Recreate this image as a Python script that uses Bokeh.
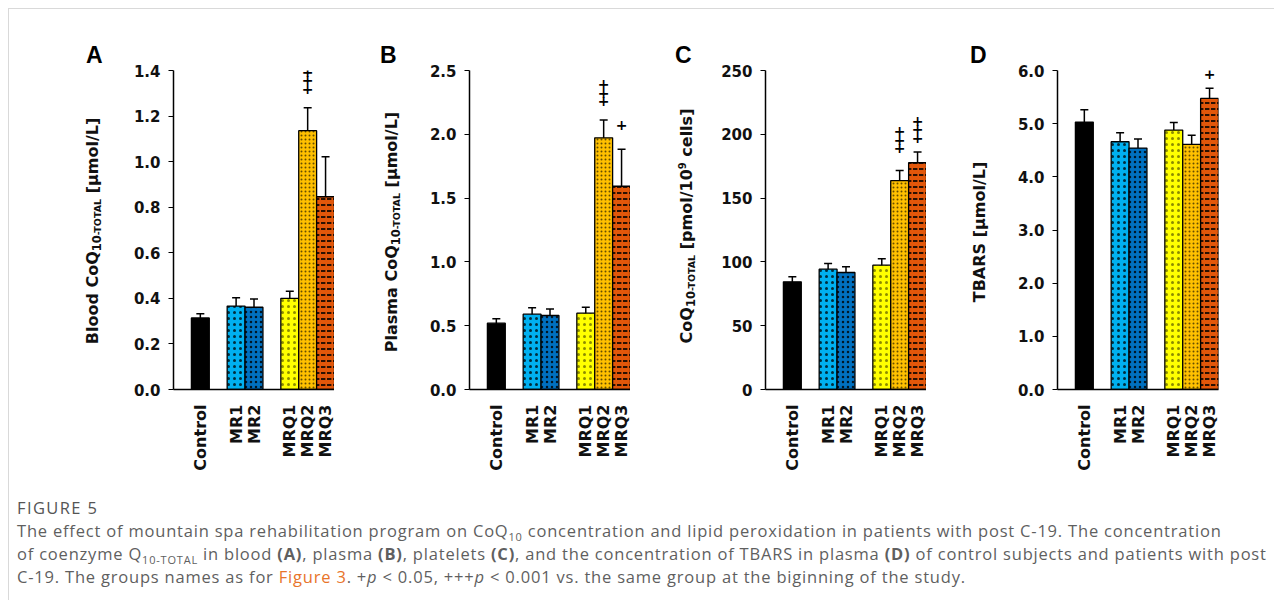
import math
from bokeh.plotting import figure
from bokeh.models import (Range1d, FixedTicker, Label, Whisker, ColumnDataSource,
                          TeeHead, Div, PrintfTickFormatter)
from bokeh.layouts import row, column
from bokeh.embed import file_html
from bokeh.resources import INLINE

# ---------------- data ----------------
groups = ["Control", "MR1", "MR2", "MRQ1", "MRQ2", "MRQ3"]
group_sets = [["Control"], ["MR1", "MR2"], ["MRQ1", "MRQ2", "MRQ3"]]

blood_mean = [0.314, 0.366, 0.361, 0.400, 1.136, 0.846]
blood_err = [0.018, 0.037, 0.036, 0.031, 0.100, 0.175]

plasma_mean = [0.520, 0.590, 0.580, 0.598, 1.972, 1.593]
plasma_err = [0.035, 0.050, 0.050, 0.046, 0.140, 0.290]

platelet_mean = [84.4, 94.3, 91.7, 97.4, 163.7, 177.7]
platelet_err = [4.0, 4.5, 4.5, 5.0, 8.0, 8.5]

tbars_mean = [5.03, 4.66, 4.54, 4.88, 4.61, 5.475]
tbars_err = [0.23, 0.17, 0.17, 0.14, 0.17, 0.19]

ticks_A = [0.0, 0.2, 0.4, 0.6, 0.8, 1.0, 1.2, 1.4]
ticks_B = [0.0, 0.5, 1.0, 1.5, 2.0, 2.5]
ticks_C = [0, 50, 100, 150, 200, 250]
ticks_D = [0.0, 1.0, 2.0, 3.0, 4.0, 5.0, 6.0]

label_A = "Blood CoQ<sub10>10</sub10><subT>-TOTAL</subT> [μmol/L]"
label_B = "Plasma CoQ<sub10>10</sub10><subT>-TOTAL</subT> [μmol/L]"
label_C = "CoQ<sub10>10</sub10><subT>-TOTAL</subT> [pmol/10<sup>9</sup> cells]"
label_D = "TBARS [μmol/L]"

# significance marks: (group, number of "+")
sig_A = [("MRQ2", 3)]
sig_B = [("MRQ2", 3), ("MRQ3", 1)]
sig_C = [("MRQ2", 3), ("MRQ3", 3)]
sig_D = [("MRQ3", 1)]

# ---------------- styles ----------------
fill_colors = {"Control": "#000000", "MR1": "#00b0f0", "MR2": "#0070c0",
               "MRQ1": "#ffff00", "MRQ2": "#ffc000", "MRQ3": "#e2570a"}
hatch_pats = {"Control": " ", "MR1": "dot", "MR2": "dot",
              "MRQ1": "dot", "MRQ2": "dot", "MRQ3": "horizontal_dash"}
hatch_scales = {"Control": 6, "MR1": 6, "MR2": 5, "MRQ1": 6, "MRQ2": 4, "MRQ3": 6}
hatch_weights = {"Control": 1, "MR1": 0.8, "MR2": 0.8, "MRQ1": 0.6, "MRQ2": 0.7, "MRQ3": 1.8}
hatch_alphas = {"Control": 0, "MR1": 0.75, "MR2": 0.8, "MRQ1": 0.45, "MRQ2": 0.6, "MRQ3": 0.9}

# positions (doubled units so ticks are integers); one empty slot between groups
positions = {}
cursor = 2
for gs in group_sets:
    for g in gs:
        positions[g] = cursor + 1
        cursor += 2
    cursor += 2
x_end = cursor - 2

FONT = "DejaVu Sans"
FRAME_W, FRAME_H = 161, 319
TOP, BOTTOM, LEFT = 61, 107, 50
FIG_H = TOP + FRAME_H + BOTTOM


def make_panel(means, errs, ticks, fmt, sigs, sig_offsets, right):
    ymax = ticks[-1]
    p = figure(frame_width=FRAME_W, frame_height=FRAME_H,
               min_border_left=LEFT, min_border_right=right,
               min_border_top=TOP, min_border_bottom=BOTTOM,
               x_range=Range1d(0, x_end), y_range=Range1d(0, ymax),
               output_backend="svg", toolbar_location=None,
               outline_line_color=None, background_fill_color="white")
    p.grid.visible = False

    xs = [positions[g] for g in groups]
    src = ColumnDataSource(dict(
        x=xs, top=means,
        upper=[m + e for m, e in zip(means, errs)],
        lower=[m - e for m, e in zip(means, errs)],
        color=[fill_colors[g] for g in groups],
        hatch=[hatch_pats[g] for g in groups],
        hscale=[hatch_scales[g] for g in groups],
        hweight=[hatch_weights[g] for g in groups],
        halpha=[hatch_alphas[g] for g in groups],
    ))
    p.vbar(x="x", top="top", bottom=0, width=2, source=src,
           fill_color="color", line_color="black", line_width=1.3,
           hatch_pattern="hatch", hatch_scale="hscale",
           hatch_color="black", hatch_weight="hweight", hatch_alpha="halpha")

    wh = Whisker(base="x", upper="upper", lower="lower", source=src,
                 line_color="black", line_width=1.5,
                 upper_head=TeeHead(size=8, line_width=1.5, line_color="black"),
                 lower_head=TeeHead(size=8, line_width=1.5, line_color="black"))
    p.add_layout(wh)

    p.yaxis.ticker = FixedTicker(ticks=ticks)
    p.yaxis.formatter = PrintfTickFormatter(format=fmt)
    p.yaxis.axis_line_width = 1.5
    p.yaxis.axis_line_color = "black"
    p.yaxis.major_tick_out = 5
    p.yaxis.major_tick_in = 0
    p.yaxis.major_tick_line_width = 1.2
    p.yaxis.minor_tick_line_color = None
    p.yaxis.major_label_standoff = 8
    p.yaxis.major_label_text_font = FONT
    p.yaxis.major_label_text_font_style = "bold"
    p.yaxis.major_label_text_font_size = "15px"
    p.yaxis.major_label_text_color = "#111111"

    p.xaxis.ticker = FixedTicker(ticks=xs)
    p.xaxis.major_label_overrides = {positions[g]: g for g in groups}
    p.xaxis.axis_line_width = 1.5
    p.xaxis.axis_line_color = "black"
    p.xaxis.major_tick_line_color = None
    p.xaxis.minor_tick_line_color = None
    p.xaxis.major_label_orientation = math.pi / 2
    p.xaxis.major_label_standoff = 9
    p.xaxis.major_label_text_font = FONT
    p.xaxis.major_label_text_font_style = "bold"
    p.xaxis.major_label_text_font_size = "16px"
    p.xaxis.major_label_text_color = "#111111"

    for (g, n), off in zip(sigs, sig_offsets):
        i = groups.index(g)
        for k in range(n):
            p.add_layout(Label(x=positions[g], y=means[i] + errs[i],
                               y_offset=off + 8.5 * k, text="+",
                               text_align="center", text_baseline="middle",
                               text_font=FONT, text_font_style="bold",
                               text_font_size="14px", text_color="black"))
    return p


def side_div(letter, label, width, cx, cy, letter_left):
    lab = (label.replace("<sub10>", "<span style='font-size:11.5px;vertical-align:-3px;'>")
                .replace("</sub10>", "</span>")
                .replace("<subT>", "<span style='font-size:9.5px;vertical-align:-3px;'>")
                .replace("</subT>", "</span>")
                .replace("<sup>", "<span style='font-size:10px;vertical-align:6px;'>")
                .replace("</sup>", "</span>"))
    html = (
        f"<div style=\"position:relative;width:{width}px;height:{FIG_H}px;\">"
        f"<div style=\"position:absolute;left:{letter_left}px;top:35px;"
        "font-family:'Liberation Sans';font-weight:bold;font-size:23px;line-height:23px;"
        f"color:#000;\">{letter}</div>"
        f"<div style=\"position:absolute;left:{cx}px;top:{cy}px;"
        "transform:translate(-50%,-50%) rotate(-90deg);white-space:nowrap;"
        "font-family:'DejaVu Sans';font-weight:bold;font-size:16px;line-height:16px;"
        f"color:#111;\">{lab}</div></div>"
    )
    return Div(text=html, width=width, height=FIG_H, margin=0)


pA = make_panel(blood_mean, blood_err, ticks_A, "%.1f", sig_A, [19], 0)
pB = make_panel(plasma_mean, plasma_err, ticks_B, "%.1f", sig_B, [19, 24], 0)
pC = make_panel(platelet_mean, platelet_err, ticks_C, "%d", sig_C, [22, 14], 0)
pD = make_panel(tbars_mean, tbars_err, ticks_D, "%.1f", sig_D, [14], 55)

dA = side_div("A", label_A, 114, 86, 222, 77)
dB = side_div("B", label_B, 85, 60, 223, 46)
dC = side_div("C", label_C, 85, 57, 217, 45)
dD = side_div("D", label_D, 81, 54, 223, 44)

caption_html = (
    "<div style=\"font-family:'Open Sans';color:#5f5f5f;padding-left:8px;"
    "white-space:nowrap;line-height:23px;\">"
    "<div style='font-size:16.5px;color:#555555;letter-spacing:1.4px;'>FIGURE 5</div>"
    "<div style='font-size:16.5px;letter-spacing:0.8px;'>"
    "The effect of mountain spa rehabilitation program on CoQ<sub style='font-size:11px;line-height:0'>10</sub> "
    "concentration and lipid peroxidation in patients with post C-19. The concentration<br>"
    "of coenzyme Q<sub style='font-size:11px;line-height:0'>10-TOTAL</sub> in blood <b>(A)</b>, plasma <b>(B)</b>, "
    "platelets <b>(C)</b>, and the concentration of TBARS in plasma <b>(D)</b> of control subjects "
    "and patients with post<br>"
    "C-19. The groups names as for <span style='color:#e8742a'>Figure 3</span>. "
    "+<i>p</i> &lt; 0.05, +++<i>p</i> &lt; 0.001 vs. the same group at the biginning of the study."
    "</div></div>"
)
caption = Div(text=caption_html, width=1265, height=104, margin=0)

layout = column(row(dA, pA, dB, pB, dC, pC, dD, pD, spacing=0), caption, spacing=0,
                styles={"border-top": "1px solid #d9d9d9",
                        "border-left": "1px solid #d9d9d9",
                        "margin-left": "8px", "margin-top": "8px"})

open("out.html", "w").write(file_html(layout, INLINE))
